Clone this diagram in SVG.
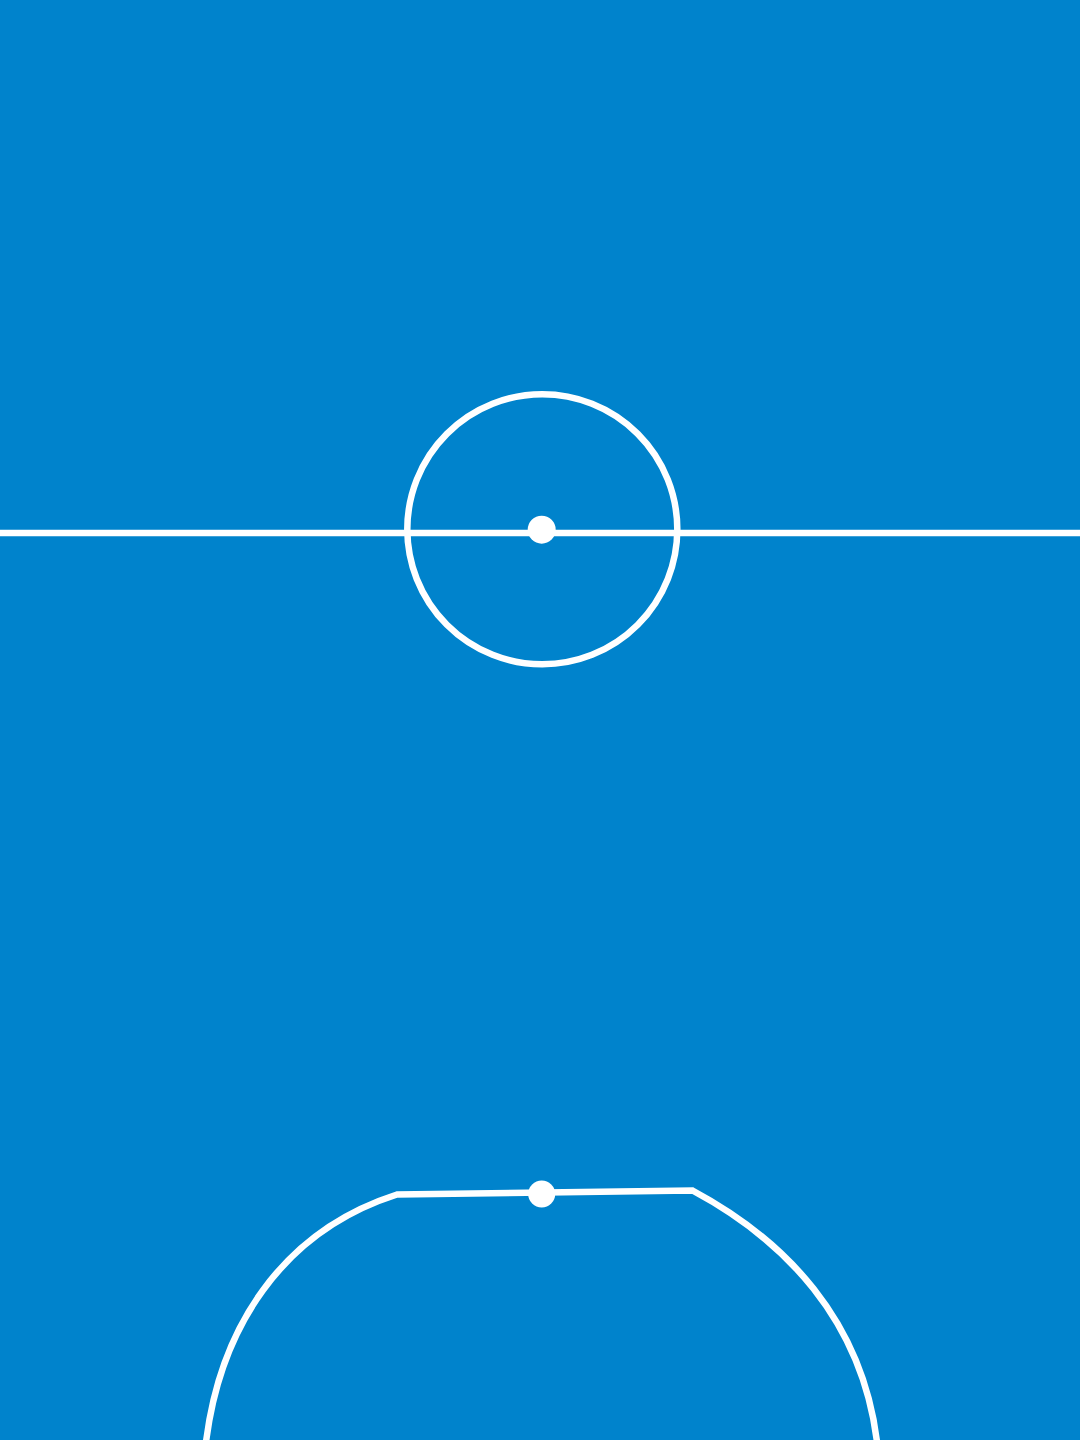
<svg xmlns="http://www.w3.org/2000/svg" width="1080" height="1440" viewBox="0 0 1080 1440">
<style>
.line{fill:none;stroke:#ffffff;stroke-width:6.5;stroke-linejoin:miter}
.spot{fill:#ffffff}
</style>
<rect x="0" y="0" width="1080" height="1440" fill="#0083CC"/>
<g id="halfway">
<line class="line" x1="0" y1="533" x2="1080" y2="533"/>
</g>
<g id="center-circle">
<circle class="line" cx="542.3" cy="529.3" r="135"/>
<circle class="spot" cx="541.7" cy="529.7" r="14"/>
</g>
<g id="penalty-area">
<path class="line" d="M 206 1442 C 220 1330 280 1232 397 1194.5 L 692.5 1190.5 C 785 1240 862 1320 877 1442"/>
<circle class="spot" cx="541.7" cy="1194" r="13.5"/>
</g>
</svg>
